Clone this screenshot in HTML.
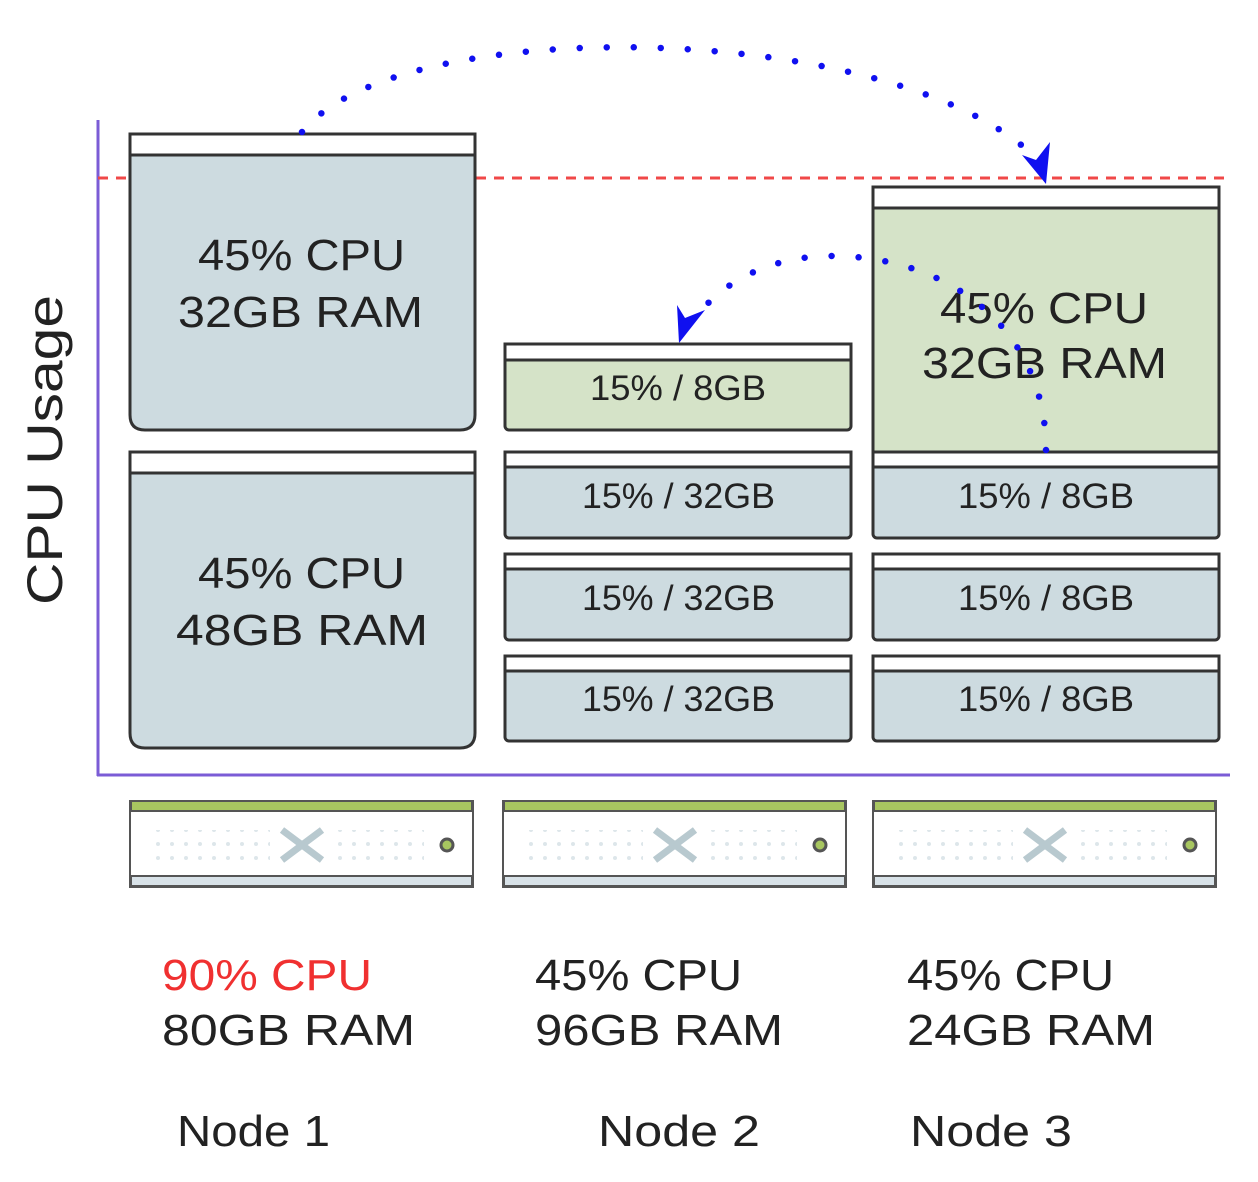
<!DOCTYPE html>
<html><head><meta charset="utf-8"><style>
html,body{margin:0;padding:0;background:#fff;}
svg{display:block;font-family:"Liberation Sans",sans-serif;}
</style></head><body>
<svg width="1258" height="1182" viewBox="0 0 1258 1182" xmlns="http://www.w3.org/2000/svg">
<defs>
<pattern id="dots" width="14" height="14" patternUnits="userSpaceOnUse"><circle cx="4" cy="4" r="2" fill="#dde6ea"/></pattern>
</defs>
<line x1="98" y1="120" x2="98" y2="776" stroke="#7b5cd6" stroke-width="3"/>
<line x1="97" y1="775" x2="1230" y2="775" stroke="#7b5cd6" stroke-width="3"/>
<line x1="98" y1="178" x2="1230" y2="178" stroke="#f04848" stroke-width="3" stroke-dasharray="10 8"/>
<text x="0" y="0" transform="translate(62,450) rotate(-90)" text-anchor="middle" font-size="50" fill="#222" textLength="310" lengthAdjust="spacingAndGlyphs">CPU Usage</text>

<g stroke="#333" stroke-width="3">
<path d="M130,134 H475 V415 Q475,430 460,430 H145 Q130,430 130,415 Z" fill="#cddbe0"/>
<rect x="130" y="134" width="345" height="21" fill="#fff"/>
<path d="M130,452 H475 V733 Q475,748 460,748 H145 Q130,748 130,733 Z" fill="#cddbe0"/>
<rect x="130" y="452" width="345" height="21" fill="#fff"/>
<rect x="505" y="344" width="346" height="86" rx="4" fill="#d5e3c8"/>
<rect x="505" y="344" width="346" height="16" fill="#fff"/>
<rect x="505" y="452" width="346" height="86" rx="4" fill="#cddbe0"/>
<rect x="505" y="452" width="346" height="15" fill="#fff"/>
<rect x="505" y="554" width="346" height="86" rx="4" fill="#cddbe0"/>
<rect x="505" y="554" width="346" height="15" fill="#fff"/>
<rect x="505" y="656" width="346" height="85" rx="4" fill="#cddbe0"/>
<rect x="505" y="656" width="346" height="15" fill="#fff"/>
<rect x="873" y="452" width="346" height="86" rx="4" fill="#cddbe0"/>
<rect x="873" y="452" width="346" height="15" fill="#fff"/>
<rect x="873" y="187" width="346" height="265" fill="#d5e3c8"/>
<rect x="873" y="187" width="346" height="21" fill="#fff"/>
<rect x="873" y="554" width="346" height="86" rx="4" fill="#cddbe0"/>
<rect x="873" y="554" width="346" height="15" fill="#fff"/>
<rect x="873" y="656" width="346" height="85" rx="4" fill="#cddbe0"/>
<rect x="873" y="656" width="346" height="15" fill="#fff"/>
</g>

<g font-size="44" fill="#222" lengthAdjust="spacingAndGlyphs">
<text x="198" y="270" textLength="207" lengthAdjust="spacingAndGlyphs">45% CPU</text>
<text x="178" y="327" textLength="245" lengthAdjust="spacingAndGlyphs">32GB RAM</text>
<text x="198" y="588" textLength="207" lengthAdjust="spacingAndGlyphs">45% CPU</text>
<text x="176" y="645" textLength="252" lengthAdjust="spacingAndGlyphs">48GB RAM</text>
<text x="940" y="323" textLength="208" lengthAdjust="spacingAndGlyphs">45% CPU</text>
<text x="922" y="378" textLength="245" lengthAdjust="spacingAndGlyphs">32GB RAM</text>
</g>
<g font-size="35" fill="#222">
<text x="590" y="400" textLength="176" lengthAdjust="spacingAndGlyphs">15% / 8GB</text>
<text x="582" y="508" textLength="193" lengthAdjust="spacingAndGlyphs">15% / 32GB</text>
<text x="582" y="610" textLength="193" lengthAdjust="spacingAndGlyphs">15% / 32GB</text>
<text x="582" y="711" textLength="193" lengthAdjust="spacingAndGlyphs">15% / 32GB</text>
<text x="958" y="508" textLength="176" lengthAdjust="spacingAndGlyphs">15% / 8GB</text>
<text x="958" y="610" textLength="176" lengthAdjust="spacingAndGlyphs">15% / 8GB</text>
<text x="958" y="711" textLength="176" lengthAdjust="spacingAndGlyphs">15% / 8GB</text>
</g>

<g id="srv">
<rect x="130" y="801" width="343" height="86" fill="#fff" stroke="#555" stroke-width="2"/>
<rect x="131" y="801" width="341" height="10" fill="#a8c660" stroke="#555" stroke-width="2"/>
<rect x="131" y="876" width="341" height="10" fill="#d8e2e8" stroke="#555" stroke-width="2"/>
<rect x="148" y="830" width="122" height="30" fill="url(#dots)"/>
<rect x="334" y="830" width="90" height="30" fill="url(#dots)"/>
<path d="M282,830 L302,845 L282,860 M322,830 L302,845 L322,860" stroke="#b8c9cf" stroke-width="7" fill="none"/>
<circle cx="447" cy="845" r="6" fill="#a8c660" stroke="#555" stroke-width="3"/>
</g>
<use href="#srv" x="373"/>
<use href="#srv" x="743"/>

<g font-size="44" fill="#222">
<text x="162" y="990" fill="#f03030" textLength="210" lengthAdjust="spacingAndGlyphs">90% CPU</text>
<text x="162" y="1045" textLength="253" lengthAdjust="spacingAndGlyphs">80GB RAM</text>
<text x="535" y="990" textLength="207" lengthAdjust="spacingAndGlyphs">45% CPU</text>
<text x="535" y="1045" textLength="248" lengthAdjust="spacingAndGlyphs">96GB RAM</text>
<text x="907" y="990" textLength="207" lengthAdjust="spacingAndGlyphs">45% CPU</text>
<text x="907" y="1045" textLength="248" lengthAdjust="spacingAndGlyphs">24GB RAM</text>
<text x="177" y="1146" textLength="153" lengthAdjust="spacingAndGlyphs">Node 1</text>
<text x="598" y="1146" textLength="162" lengthAdjust="spacingAndGlyphs">Node 2</text>
<text x="910" y="1146" textLength="162" lengthAdjust="spacingAndGlyphs">Node 3</text>
</g>

<g fill="none" stroke="#1010f0" stroke-width="6.5" stroke-linecap="round" stroke-dasharray="0 27">
<path d="M302,132 C400,10 900,20 1038,160"/>
<path d="M1046,450 C1046,330 950,256 832,256 C770,256 725,282 700,312"/>
</g>
<polygon points="1046,184 1022,155 1036,160 1050,142" fill="#1010f0"/>
<polygon points="679,343 677,305 685,318 705,310" fill="#1010f0"/>
</svg>
</body></html>
